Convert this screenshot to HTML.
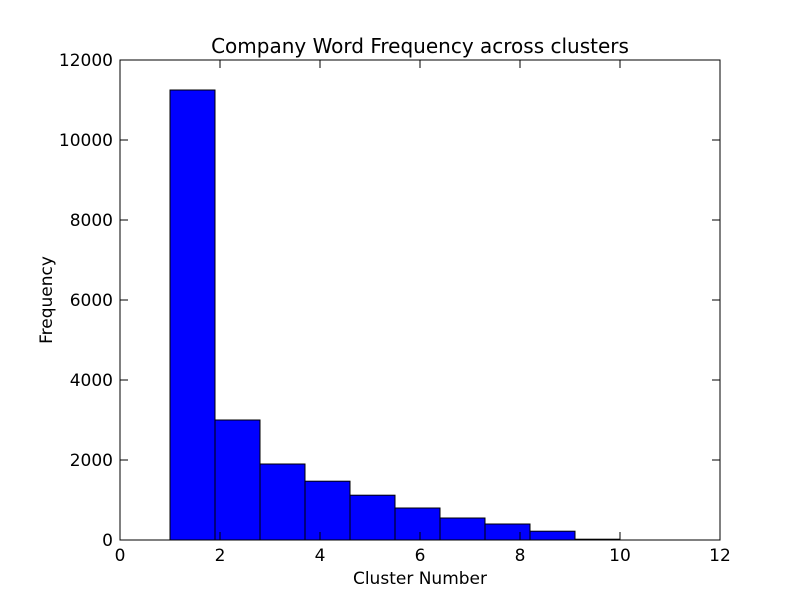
<!DOCTYPE html>
<html><head><meta charset="utf-8"><style>
body{margin:0;background:#fff;}
svg text{font-family:"DejaVu Sans","Liberation Sans",sans-serif;}
</style></head><body>
<svg id="chart" width="800" height="600" xmlns="http://www.w3.org/2000/svg">
<rect width="800" height="600" fill="#fff"/>
<text x="420" y="53" font-size="20" text-anchor="middle">Company Word Frequency across clusters</text>
<g id="bars"></g>
<rect x="120" y="60" width="600" height="480" fill="none" stroke="#000" stroke-width="1"/>
<g id="ticks"></g>
<text x="420" y="584" font-size="17" text-anchor="middle">Cluster Number</text>
<text transform="translate(52,300) rotate(-90)" font-size="17" text-anchor="middle">Frequency</text>
</svg>
<script>
const binStarts=[1,1.9,2.8,3.7,4.6,5.5,6.4,7.3,8.2,9.1];
const counts=[11250,3000,1900,1470,1120,800,550,400,220,20];
const xTicks=[0,2,4,6,8,10,12];
const yTicks=[0,2000,4000,6000,8000,10000,12000];
const binWidth=0.9;
const X=v=>120+v*50, Y=v=>540-v*0.04;
const ns="http://www.w3.org/2000/svg";
const bars=document.getElementById('bars'), tk=document.getElementById('ticks');
binStarts.forEach((s,i)=>{
 const r=document.createElementNS(ns,'rect');
 r.setAttribute('x',X(s));r.setAttribute('y',Y(counts[i]));
 r.setAttribute('width',X(s+binWidth)-X(s));r.setAttribute('height',Y(0)-Y(counts[i]));
 r.setAttribute('fill','#0000ff');r.setAttribute('stroke','#000');r.setAttribute('stroke-width','1');
 
 
 bars.appendChild(r);
});
function line(x1,y1,x2,y2){const l=document.createElementNS(ns,'line');l.setAttribute('x1',x1);l.setAttribute('y1',y1);l.setAttribute('x2',x2);l.setAttribute('y2',y2);l.setAttribute('stroke','#000');tk.appendChild(l);}
function text(x,y,t,a){const e=document.createElementNS(ns,'text');e.setAttribute('x',x);e.setAttribute('y',y);e.setAttribute('font-size','17');e.setAttribute('text-anchor',a);e.textContent=t;
 
 
 tk.appendChild(e);}
xTicks.forEach(v=>{const x=X(v);line(x,540,x,532);line(x,60,x,68);text(x,561,String(v),'middle');});
yTicks.forEach(v=>{const y=Y(v);line(120,y,128,y);line(720,y,712,y);text(113,y+6,String(v),'end');});
</script>
</body></html>
